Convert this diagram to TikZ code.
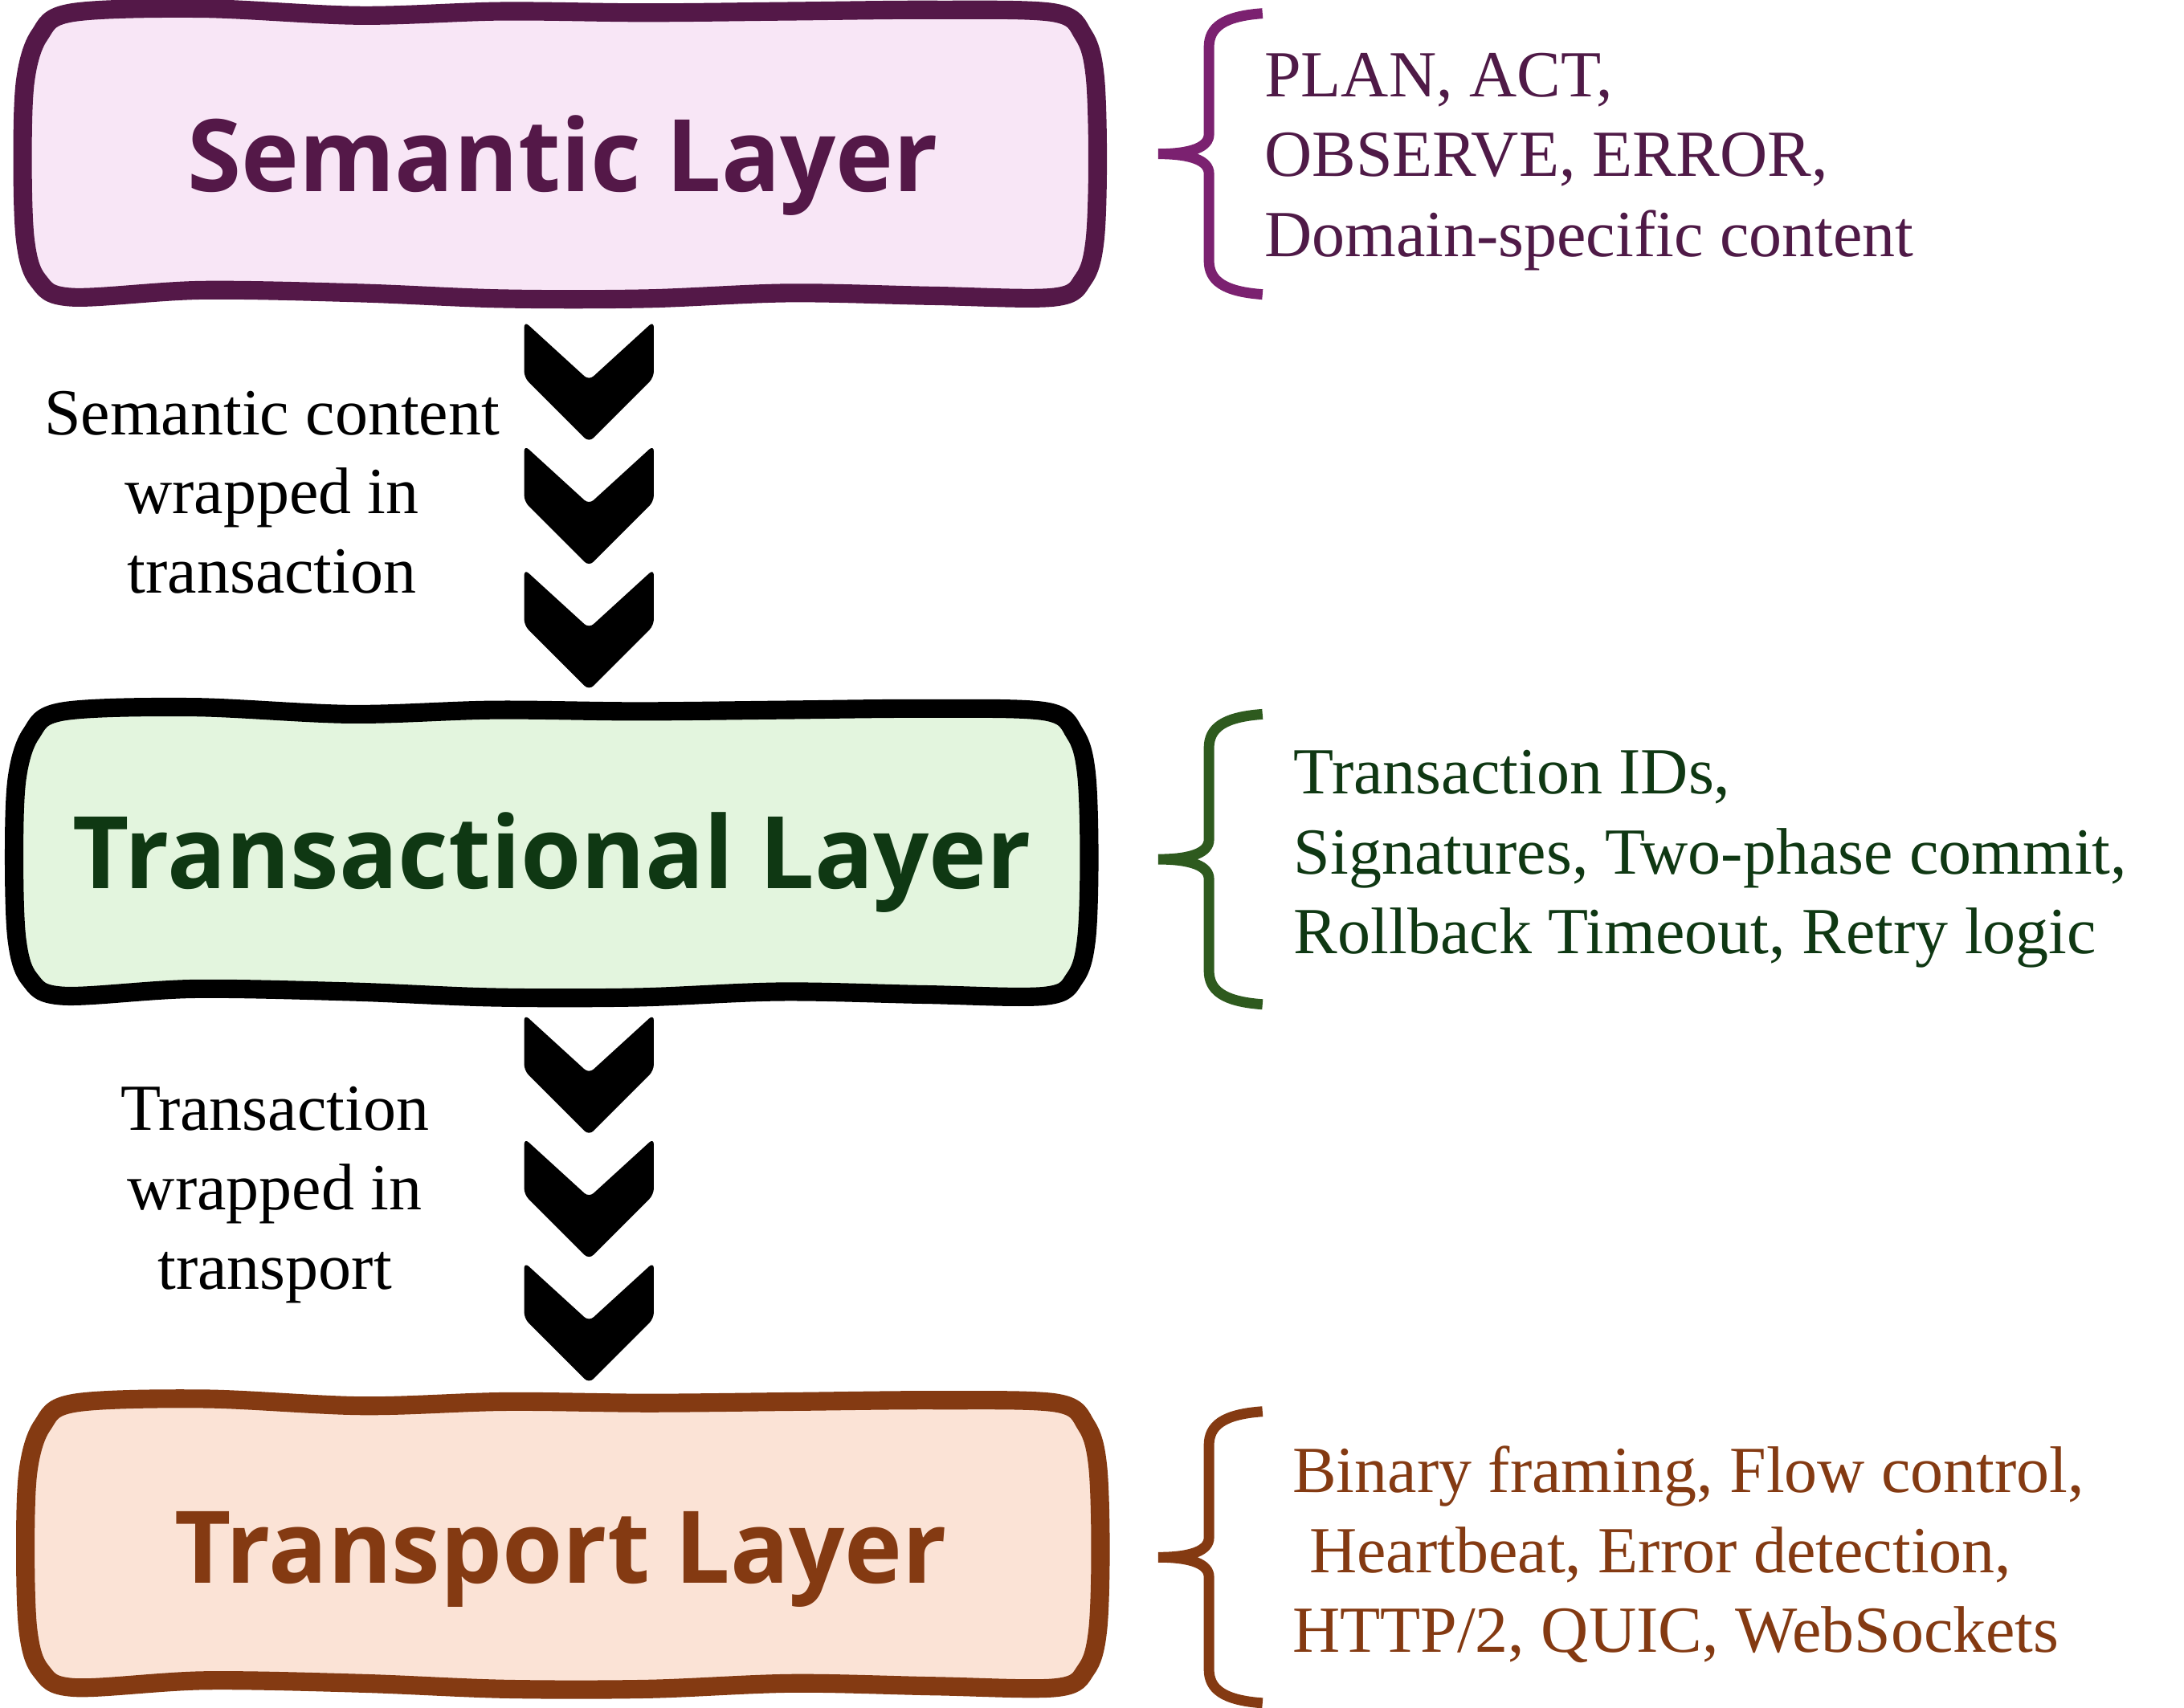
\documentclass[tikz,border=0pt]{standalone}
\usepackage{fontspec}
\setmainfont{Liberation Serif}
\newfontfamily\titlefont[FakeStretch=0.975]{Open Sans}
\usetikzlibrary{backgrounds}

\definecolor{semline}{HTML}{541848}
\definecolor{semfill}{HTML}{F8E6F6}
\definecolor{semtext}{HTML}{4F1A47}
\definecolor{sembrace}{HTML}{7B2170}
\definecolor{trafill}{HTML}{E3F5DE}
\definecolor{tratext}{HTML}{0F3813}
\definecolor{trabrace}{HTML}{2E5A1E}
\definecolor{tpline}{HTML}{843A12}
\definecolor{tpfill}{HTML}{FBE3D6}

\tikzset{
  layertitle/.style={font=\titlefont\bfseries\fontsize{40.5}{48}\selectfont, anchor=base, inner sep=0pt},
  notetext/.style={font=\fontsize{26.6}{32.3}\selectfont, align=left, anchor=base west, inner sep=0pt},
  steplabel/.style={font=\fontsize{26.6}{32}\selectfont, align=center, anchor=base, inner sep=0pt},
  layerline/.style={line width=7.5pt, line join=round},
  bracket/.style={line width=4.2pt},
}

% wavy layer box, top left corner at #1,#2
\newcommand{\layerbox}[4]{%
  \filldraw[layerline, draw=#3, fill=#4, shift={(#1,#2)}] plot[smooth cycle, tension=0.55] coordinates {
    (40,6) (132,3) (244,8) (345,5) (447,6) (549,5) (651,4) (737,6)
    (758,22) (766,50) (768,110) (766,168) (758,195) (737,208)
    (651,207) (549,205) (447,209) (345,209) (244,205) (132,203) (40,208)
    (16,196) (7,168) (5,110) (7,54) (17,22)};}
% one chevron, top centre at #1,#2
\newcommand{\chevron}[2]{%
  \fill[rounded corners=2.5pt, shift={(#1,#2)}] (-46,0) -- (-46,40) -- (0,86) -- (46,40) -- (46,0) -- (0,42) -- cycle;}
% curly bracket from #2 down to #3
\newcommand{\layerbrace}[3]{%
  \pgfmathsetmacro{\bracemid}{(#2+#3)/2}
  \draw[bracket, draw=#1] (896,#2) .. controls (868,#2+2) and (858,#2+10) .. (858,#2+24)
    -- (858,\bracemid-14) .. controls (858,\bracemid-5) and (846,\bracemid) .. (822,\bracemid)
    .. controls (846,\bracemid) and (858,\bracemid+5) .. (858,\bracemid+14)
    -- (858,#3-24) .. controls (858,#3-10) and (868,#3-2) .. (896,#3);}

\begin{document}
\begin{tikzpicture}[x=0.02cm, y=-0.02cm]
  \useasboundingbox (0,0) rectangle (1550,1212.5);

  % layers
  \node[layertitle, text=semline] (sem) at (399.5,136) {Semantic Layer};
  \node[layertitle, text=tratext] (trans) at (392,631) {Transactional Layer};
  \node[layertitle, text=tpline] (transp) at (398,1124) {Transport Layer};
  \begin{scope}[on background layer]
    \layerbox{11}{3}{semline}{semfill}
    \layerbox{5}{499}{black}{trafill}
    \layerbox{13}{990}{tpline}{tpfill}
  \end{scope}

  % chevrons between the layers
  \foreach \y in {228,316,404} {\chevron{418}{\y}}
  \foreach \y in {720,808,896} {\chevron{418}{\y}}
  \node[steplabel] (wrapsem) at (193,421) {Semantic content\\wrapped in\\transaction};
  \node[steplabel] (wraptrans) at (195,915) {Transaction\\wrapped in\\transport};

  % notes
  \layerbrace{sembrace}{9.5}{209}
  \layerbrace{trabrace}{507}{713}
  \layerbrace{tpline}{1002}{1209}
  \node[notetext, text=semtext] (semnote) at (897,182) {PLAN, ACT,\\OBSERVE, ERROR,\\Domain-specific content};
  \node[notetext, text=tratext] (transnote) at (918,677) {Transaction IDs,\\Signatures, Two-phase commit,\\Rollback Timeout, Retry logic};
  \node[notetext, text=tpline] (transpnote) at (917,1173) {Binary framing, Flow control,\\\hspace*{6.8pt}Heartbeat, Error detection,\\HTTP/2, QUIC, WebSockets};
\end{tikzpicture}
\end{document}
